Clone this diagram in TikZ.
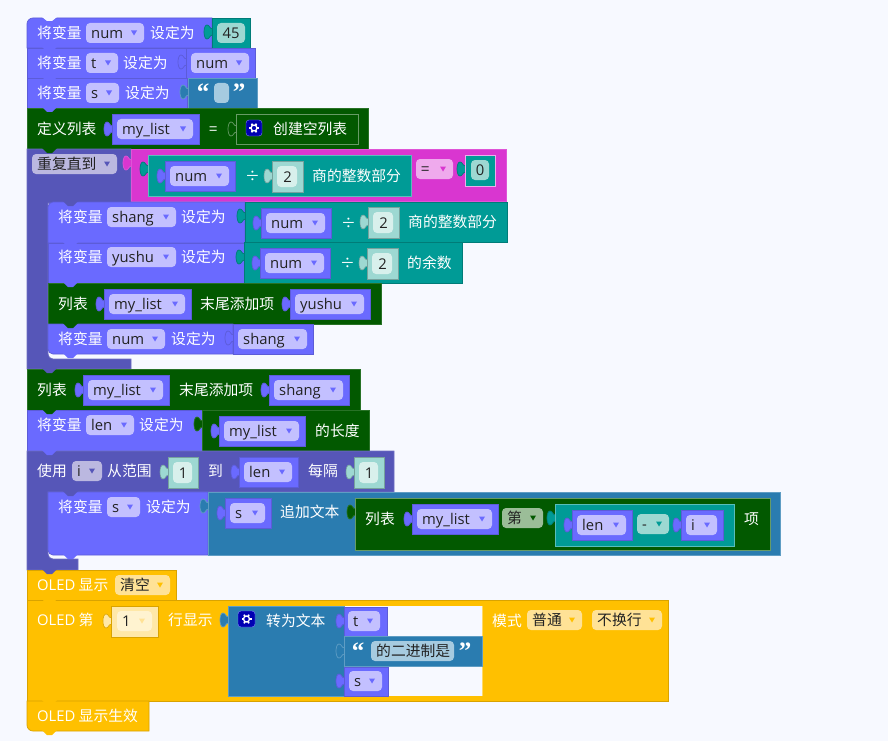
\documentclass[tikz,border=0pt]{standalone}
\usepackage{fontspec}
\setmainfont{Noto Sans CJK SC}
\newfontfamily\lat{Open Sans}
\newfontfamily\quotefont{Liberation Serif}[BoldFont={Liberation Serif Bold}]
\definecolor{cbg}{HTML}{F7F9FF}
\definecolor{cpurple}{HTML}{6A6AFF}
\definecolor{cpurpleline}{HTML}{5C5CD8}
\definecolor{cdark}{HTML}{5656B8}
\definecolor{cteal}{HTML}{009B96}
\definecolor{cblue}{HTML}{2A7CB0}
\definecolor{cgreen}{HTML}{025900}
\definecolor{cgold}{HTML}{FFC000}
\definecolor{cmagenta}{HTML}{D936D0}
\definecolor{cink}{HTML}{222222}
\definecolor{flav}{HTML}{C3C0FF}
\definecolor{fdark}{HTML}{BBB8E0}
\definecolor{fteal}{HTML}{9DD8D2}
\definecolor{fpale}{HTML}{D8F0EC}
\definecolor{fgold}{HTML}{FFE296}
\definecolor{fpink}{HTML}{EFAAED}
\definecolor{fgreen}{HTML}{9BBD98}
\definecolor{fblue}{HTML}{A6CBE0}
\definecolor{bgold}{HTML}{FFE8A8}
\definecolor{pgold}{HTML}{FFF3D0}
\tikzset{
	purpleblk/.style={fill=cpurple,draw=cpurpleline,line width=0.7pt},
	darkblk/.style={fill=cdark,draw=cdark!85!white,line width=0.7pt},
	tealblk/.style={fill=cteal,draw=cteal!80!black,line width=0.7pt},
	tealin/.style={fill=cteal,draw=cteal!65!white,line width=0.7pt},
	blueblk/.style={fill=cblue,draw=cblue!75!white,line width=0.7pt},
	greenblk/.style={fill=cgreen,draw=cgreen!85!white,line width=0.7pt},
	greenin/.style={fill=cgreen,draw=cgreen!60!white,line width=0.7pt},
	goldblk/.style={fill=cgold,draw=cgold!85!black,line width=0.7pt},
	magentablk/.style={fill=cmagenta,draw=cmagenta!85!white,line width=0.7pt},
	litblk/.style={fill=fteal,draw=fteal!75!black,line width=0.6pt},
	goldlit/.style={fill=bgold,draw=cgold!85!black,line width=0.6pt},
	lbl/.style={anchor=base west,inner sep=0pt,text=white,font=\fontsize{14.8}{16}\selectfont},
	fldtext/.style={anchor=base west,inner sep=0pt,text=cink,font=\fontsize{14.8}{16}\selectfont},
	littext/.style={anchor=base,inner sep=0pt,text=cink,font=\fontsize{14.8}{16}\selectfont\lat},
	quotemark/.style={anchor=base,inner sep=0pt,text=white,font=\fontsize{25}{25}\quotefont\bfseries},
}
% block, puzzle tab, bottom notch
\newcommand{\blk}[5]{\draw[#1] (#2,#3) rectangle (#4,#5);}
\newcommand{\puz}[3]{\draw[#1] (#2+1,#3-3) .. controls (#2-3,#3-3) and (#2-2,#3-7) .. (#2-5,#3-7) .. controls (#2-9,#3-7) and (#2-9,#3+7) .. (#2-5,#3+7) .. controls (#2-2,#3+7) and (#2-3,#3+3) .. (#2+1,#3+3) -- cycle;}
\newcommand{\notch}[3]{\fill[#1] (#2,#3-1) -- (#2+5,#3+4) -- (#2+10,#3+4) -- (#2+15,#3-1) -- cycle;}
\newcommand{\lab}[4]{\node[lbl] (#1) at (#2,#3+5.8) {#4};}
% fill, arrow, name, x1, x2, y centre, text
\newcommand{\fld}[7]{
	\fill[#1,rounded corners=4pt] (#4,#6-10) rectangle (#5,#6+10);
	\node[fldtext] (#3) at (#4+5,#6+5.8) {#7};
	\fill[#2] (#5-13,#6-2.5) -- (#5-7,#6-2.5) -- (#5-10,#6+2.5) -- cycle;
}
% variable block with tab and dropdown
\newcommand{\varb}[5]{
	\puz{purpleblk}{#2}{#4+15}
	\blk{purpleblk}{#2}{#4}{#3}{#4+30}
	\fld{flav}{cpurple}{#1}{#2+5}{#3-6}{#4+15}{\lat #5}
}
% number block with tab
\newcommand{\litb}[5]{
	\puz{litblk}{#2}{#4+15}
	\blk{litblk}{#2}{#4}{#3}{#4+31}
	\fill[fpale,rounded corners=4pt] (#2+5,#4+5) rectangle (#3-6,#4+26);
	\node[littext] (#1) at (#2/2+#3/2,#4+21) {#5};
}
\begin{document}
\begin{tikzpicture}[x=1pt,y=-1pt]
	\useasboundingbox (0,0) rectangle (888,741);
	\fill[cbg] (0,0) rectangle (888,741);

	% num = 45
	\draw[purpleblk] (212,48) -- (27,48) [rounded corners=6pt] -- (27,18) [sharp corners] -- (212,18) -- cycle;
	\fill[cbg] (42,17) -- (47,21) -- (52,21) -- (57,17) -- cycle;
	\lab{setnum}{37}{33}{将变量}
	\fld{flav}{cpurple}{numfield}{86}{144}{33}{\lat num}
	\lab{setnumto}{150}{33}{设定为}
	\puz{tealblk}{212}{32}
	\blk{tealblk}{212}{18}{250}{48}
	\fill[fteal,rounded corners=4pt] (217,23) rectangle (245,43);
	\node[littext] (fortyfive) at (231,38.5) {45};

	% t = num
	\blk{purpleblk}{27}{48}{186}{78}
	\notch{cpurple}{42}{48}
	\lab{sett}{37}{63}{将变量}
	\fld{flav}{cpurple}{tfield}{86}{118}{63}{\lat t}
	\lab{settto}{123}{63}{设定为}
	\puz{purpleblk}{186}{62}
	\blk{purpleblk}{186}{48}{255}{78}
	\fld{flav}{cpurple}{tnum}{191}{249}{63}{\lat num}

	% s = ""
	\blk{purpleblk}{27}{78}{187}{108}
	\notch{cpurple}{42}{78}
	\lab{sets}{37}{93}{将变量}
	\fld{flav}{cpurple}{sfield}{86}{119}{93}{\lat s}
	\lab{setsto}{125}{93}{设定为}
	\puz{blueblk}{188}{92}
	\blk{blueblk}{188}{78}{257}{108}
	\node[quotemark] (sopen) at (203,101) {“};
	\fill[fblue,rounded corners=4pt] (214,83) rectangle (229,103);
	\node[quotemark] (sclose) at (239,101) {”};

	% list definition
	\blk{greenblk}{27}{108}{368}{149}
	\notch{cpurple}{42}{108}
	\lab{deflist}{37}{129}{定义列表}
	\varb{deflistvar}{112}{199}{114}{my\_list}
	\lab{defeq}{209}{129}{=}
	\puz{greenin}{236}{129}
	\blk{greenin}{236}{114}{358}{144}
	\fill[blue!70!black,draw=white!50!blue,rounded corners=3pt] (246,120) rectangle (262,136);
	\foreach \ang in {0,60,...,300}
		\draw[white,line width=1.7pt] (254,128)+(\ang:2.5) -- +(\ang:5);
	\draw[white,line width=1.3pt] (254,128) circle (3);
	\lab{emptylist}{273}{129}{创建空列表}

	% repeat until
	\draw[darkblk] (27,149) -- (131,149) -- (131,203) -- (48,203) [rounded corners=5pt] -- (48,359) [sharp corners] -- (131,359) -- (131,369) -- (27,369) -- cycle;
	\notch{cgreen}{42}{149}
	\fld{fdark}{cdark}{repeatfield}{32}{117}{164}{重复直到}
	\puz{magentablk}{131}{163}
	\blk{magentablk}{131}{149}{506}{201}
	\puz{tealblk}{148}{169}
	\blk{tealin}{148}{155}{411}{196}
	\varb{divnum}{165}{235}{161}{num}
	\lab{divsign}{245}{176}{÷}
	\litb{divtwo}{272}{303}{161}{2}
	\lab{quotient}{312}{176}{商的整数部分}
	\fld{fpink}{cmagenta}{eqfield}{416}{453}{169}{=}
	\puz{tealblk}{465}{169}
	\draw[fill=cteal,draw=fpink,line width=0.6pt] (465,155) rectangle (495,186);
	\fill[fteal,rounded corners=4pt] (471,160) rectangle (489,180);
	\node[littext] (zero) at (480,175.5) {0};

	% shang
	\draw[purpleblk] (245,243) -- (48,243) [rounded corners=5pt] -- (48,202) [sharp corners] -- (245,202) -- cycle;
	\notch{cdark}{63}{202}
	\lab{setshang}{58}{217}{将变量}
	\fld{flav}{cpurple}{shangfield}{107}{176}{217}{\lat shang}
	\lab{setshangto}{181}{217}{设定为}
	\puz{tealblk}{245}{216}
	\blk{tealblk}{245}{202}{507}{242}
	\varb{shangnum}{261}{331}{208}{num}
	\lab{shangdiv}{341}{223}{÷}
	\litb{shangtwo}{368}{399}{207}{2}
	\lab{shangquot}{408}{222}{商的整数部分}

	% yushu
	\blk{purpleblk}{48}{243}{244}{283}
	\notch{cpurple}{63}{243}
	\lab{setyushu}{58}{257}{将变量}
	\fld{flav}{cpurple}{yushufield}{107}{176}{257}{\lat yushu}
	\lab{setyushuto}{181}{257}{设定为}
	\puz{tealblk}{244}{257}
	\blk{tealblk}{244}{242}{462}{283}
	\varb{yushunum}{260}{330}{248}{num}
	\lab{yushudiv}{340}{263}{÷}
	\litb{yushutwo}{367}{398}{248}{2}
	\lab{remainder}{407}{263}{的余数}

	% append yushu
	\blk{greenblk}{48}{283}{381}{324}
	\notch{cpurple}{63}{283}
	\lab{lista}{58}{304}{列表}
	\varb{listavar}{104}{191}{289}{my\_list}
	\lab{appenda}{200}{304}{末尾添加项}
	\varb{appendyushu}{290}{370}{289}{yushu}

	% num = shang
	\draw[purpleblk] (233,324) -- (48,324) [rounded corners=5pt] -- (48,354) [sharp corners] -- (233,354) -- cycle;
	\notch{cgreen}{63}{324}
	\lab{setback}{58}{339}{将变量}
	\fld{flav}{cpurple}{backfield}{107}{165}{339}{\lat num}
	\lab{setbackto}{171}{339}{设定为}
	\puz{purpleblk}{233}{338}
	\blk{purpleblk}{233}{324}{313}{354}
	\fld{flav}{cpurple}{backshang}{238}{307}{339}{\lat shang}
	\notch{cpurple}{63}{354}

	% append shang
	\blk{greenblk}{27}{369}{360}{410}
	\notch{cdark}{42}{369}
	\lab{listb}{37}{390}{列表}
	\varb{listbvar}{83}{169}{375}{my\_list}
	\lab{appendb}{179}{390}{末尾添加项}
	\varb{appendshang}{269}{349}{375}{shang}

	% len
	\blk{purpleblk}{27}{410}{202}{451}
	\notch{cgreen}{42}{410}
	\lab{setlen}{37}{425}{将变量}
	\fld{flav}{cpurple}{lenfield}{86}{134}{425}{\lat len}
	\lab{setlento}{139}{425}{设定为}
	\puz{greenblk}{202}{424}
	\blk{greenblk}{202}{410}{369}{451}
	\varb{lenvar}{219}{305}{416}{my\_list}
	\lab{lenof}{315}{431}{的长度}

	% for loop
	\draw[darkblk] (27,451) -- (394,451) -- (394,492) -- (48,492) [rounded corners=5pt] -- (48,559) [sharp corners] -- (78,559) -- (78,570) -- (27,570) -- cycle;
	\notch{cpurple}{42}{451}
	\lab{foruse}{37}{471}{使用}
	\fld{fdark}{cdark}{forvar}{72}{102}{471}{\lat i}
	\lab{forfrom}{107}{471}{从范围}
	\litb{forstart}{168}{198}{457}{1}
	\lab{forto}{208}{471}{到}
	\varb{forend}{239}{298}{457}{len}
	\lab{forstep}{308}{471}{每隔}
	\litb{forinc}{354}{384}{457}{1}

	% s = s + item
	\draw[purpleblk] (208,492) -- (48,492) [rounded corners=5pt] -- (48,555) [sharp corners] -- (208,555) -- cycle;
	\notch{cdark}{63}{492}
	\lab{setappend}{58}{507}{将变量}
	\fld{flav}{cpurple}{appendfield}{107}{140}{507}{\lat s}
	\lab{setappendto}{146}{507}{设定为}
	\puz{blueblk}{208}{506}
	\blk{blueblk}{208}{492}{780}{555}
	\varb{appendvar}{225}{271}{498}{s}
	\lab{appendtext}{280}{512}{追加文本}
	\puz{greenblk}{355}{512}
	\blk{greenin}{355}{498}{770}{550}
	\lab{listc}{365}{519}{列表}
	\varb{listcvar}{412}{498}{504}{my\_list}
	\fld{fgreen}{cgreen}{whichfield}{502}{543}{518}{第}
	\puz{tealblk}{555}{518}
	\blk{tealin}{555}{504}{734}{546}
	\varb{minuslen}{572}{632}{510}{len}
	\fld{fteal}{cteal}{minusfield}{637}{669}{524}{\lat -}
	\varb{minusi}{681}{723}{510}{i}
	\lab{itemlabel}{744}{519}{项}
	\notch{cpurple}{63}{555}

	% OLED clear
	\blk{goldblk}{27}{570}{176}{600}
	\notch{cdark}{42}{570}
	\lab{oledclear}{37}{585}{{\lat OLED} 显示}
	\fld{fgold}{cgold}{clearfield}{115}{170}{585}{清空}

	% OLED line
	\blk{goldblk}{27}{600}{668}{701}
	\notch{cgold}{42}{600}
	\lab{oledline}{37}{620}{{\lat OLED} 第}
	\puz{goldlit}{111}{621}
	\blk{goldlit}{111}{606}{158}{637}
	\fld{pgold}{fgold}{linefield}{117}{152}{621}{\lat 1}
	\lab{oledshow}{168}{620}{行显示}
	\puz{blueblk}{228}{620}
	\fill[cbg] (343,606) rectangle (482,696);
	\draw[cgold!60!white,line width=0.6pt] (482,606) -- (482,696);
	\draw[blueblk] (228,606) rectangle (344,696);
	\fill[blue!70!black,draw=white!50!blue,rounded corners=3pt] (238,611) rectangle (255,627);
	\foreach \ang in {0,60,...,300}
		\draw[white,line width=1.7pt] (246.5,619)+(\ang:2.5) -- +(\ang:5);
	\draw[white,line width=1.3pt] (246.5,619) circle (3);
	\lab{totext}{266}{621}{转为文本}
	\puz{purpleblk}{344}{621}
	\blk{purpleblk}{344}{607}{387}{636}
	\fld{flav}{cpurple}{textt}{348}{380}{621}{\lat t}
	\puz{blueblk}{344}{651}
	\blk{blueblk}{344}{636}{482}{666}
	\node[quotemark] (bopen) at (358,659) {“};
	\fld{fblue}{fblue}{textmid}{371}{454}{651}{的二进制是}
	\node[quotemark] (bclose) at (465,659) {”};
	\puz{purpleblk}{344}{681}
	\blk{purpleblk}{344}{667}{388}{696}
	\fld{flav}{cpurple}{texts}{349}{382}{681}{\lat s}
	\lab{modelabel}{492}{621}{模式}
	\fld{fgold}{cgold}{modefield}{527}{582}{620}{普通}
	\fld{fgold}{cgold}{wrapfield}{592}{662}{620}{不换行}

	% OLED refresh
	\draw[goldblk] (27,701) -- (149,701) -- (149,731) -- (40,731) [rounded corners=6pt] -- (27,731) [sharp corners] -- cycle;
	\notch{cgold}{42}{701}
	\notch{cgold}{42}{731}
	\lab{oledon}{37}{716}{{\lat OLED} 显示生效}
\end{tikzpicture}
\end{document}
